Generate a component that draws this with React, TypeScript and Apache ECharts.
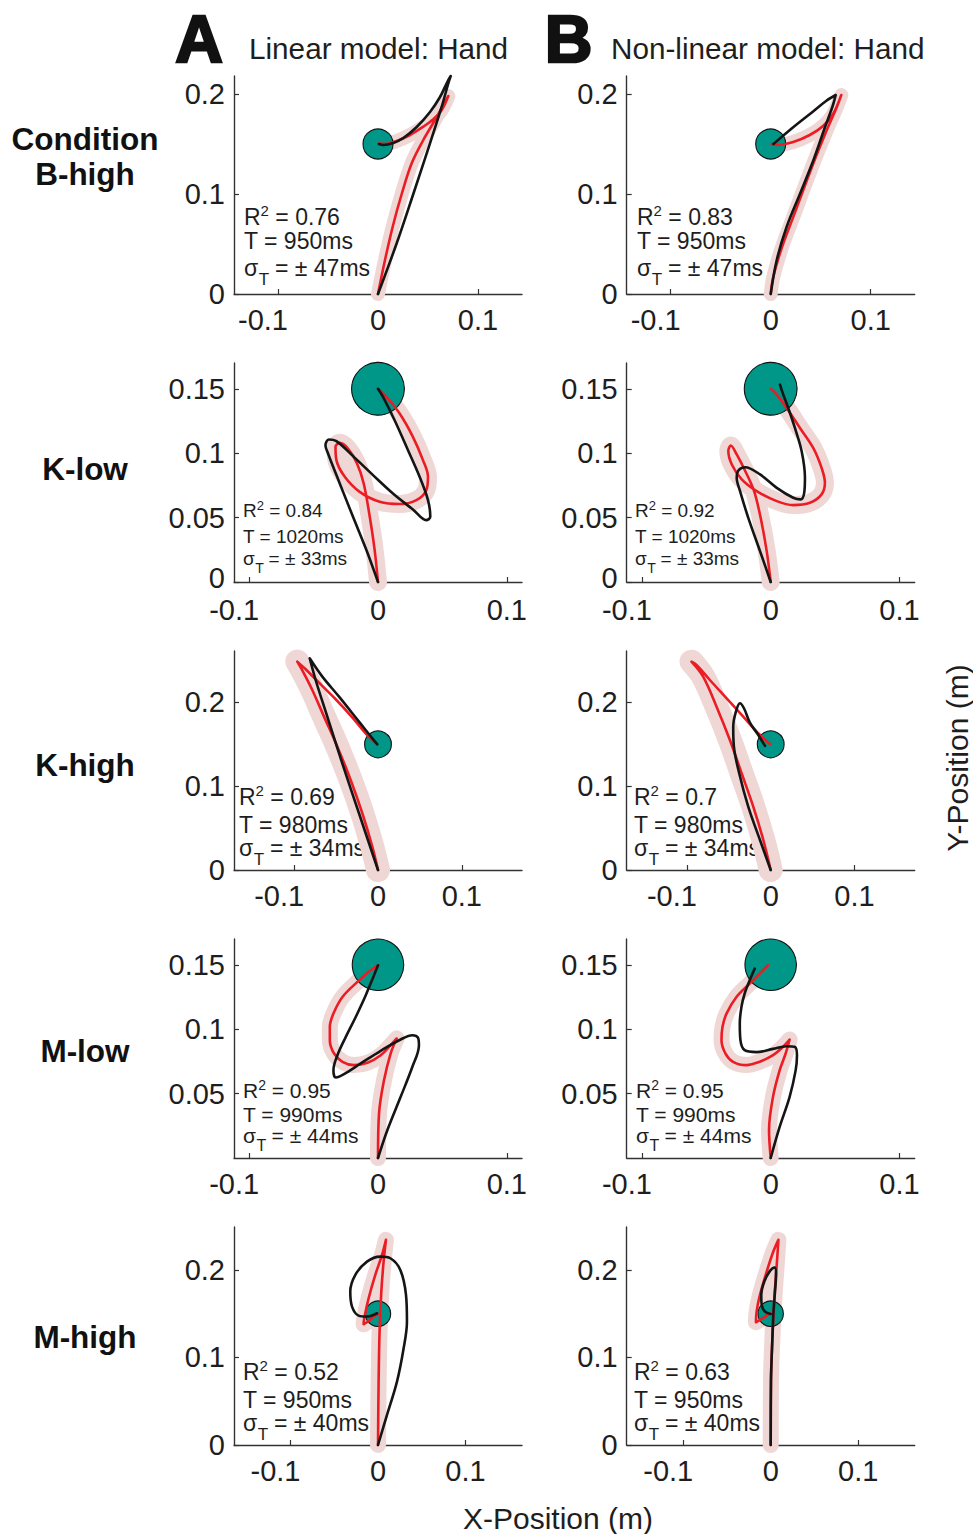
import React, { useEffect, useRef } from 'react';
import * as echarts from 'echarts';

// ---------- labels / texts ----------
const rowNames = [['Condition', 'B-high'], ['K-low'], ['K-high'], ['M-low'], ['M-high']];
const columnTitles = ['Linear model: Hand', 'Non-linear model: Hand'];
const columnLetters = ['A', 'B'];
const r2Linear = ['0.76', '0.84', '0.69', '0.95', '0.52'];
const r2Nonlinear = ['0.83', '0.92', '0.7', '0.95', '0.63'];
const durationsMs = ['950', '1020', '980', '990', '950'];
const sigmaMs = ['47', '33', '34', '44', '40'];

// ---------- tick labels ----------
const xTickValues = [-0.1, 0, 0.1];
const yTickValues = [
  [0, 0.1, 0.2],
  [0, 0.05, 0.1, 0.15],
  [0, 0.1, 0.2],
  [0.05, 0.1, 0.15],
  [0, 0.1, 0.2],
];

// ---------- targets (x, y, radius) ----------
const targetX = [0, 0, 0, 0, 0];
const targetY = [0.15, 0.15, 0.15, 0.15, 0.15];
const targetR = [0.015, 0.0205, 0.016, 0.02, 0.0145];

// ---------- trajectories [x, y] in metres ----------
// Row 1: B-high
const redBHighL = [[0, 0], [0.007, 0.034], [0.0147, 0.0673], [0.0237, 0.1], [0.0337, 0.1307], [0.0453, 0.154], [0.057, 0.174], [0.0653, 0.189], [0.0703, 0.198], [0.0637, 0.184], [0.0553, 0.1747], [0.0453, 0.1673], [0.032, 0.159], [0.0187, 0.153], [0.007, 0.15], [0.001, 0.1505]];
const blackBHighL = [[0, 0], [0.0187, 0.0507], [0.0353, 0.1], [0.052, 0.1507], [0.0637, 0.1873], [0.0703, 0.2107], [0.0727, 0.218], [0.0693, 0.212], [0.062, 0.197], [0.052, 0.182], [0.0387, 0.167], [0.0253, 0.156], [0.0153, 0.151], [0.0053, 0.149], [0.001, 0.15]];
const redBHighR = [[0, 0], [0.0026, 0.0172], [0.011, 0.046], [0.0225, 0.0769], [0.0424, 0.13], [0.0557, 0.163], [0.0657, 0.186], [0.0706, 0.199], [0.0624, 0.18], [0.0524, 0.168], [0.0391, 0.159], [0.0225, 0.152], [0.0059, 0.149], [0.001, 0.15]];
const blackBHighR = [[0, 0], [0.006, 0.0338], [0.0159, 0.067], [0.0292, 0.1], [0.0424, 0.133], [0.054, 0.166], [0.0623, 0.189], [0.065, 0.199], [0.0557, 0.1933], [0.0424, 0.1826], [0.0225, 0.1668], [0.0027, 0.15]];

// Row 2: K-low
const redKLowL = [[0, 0], [-0.0026, 0.0248], [-0.0064, 0.0506], [-0.0111, 0.0765], [-0.0163, 0.092], [-0.0233, 0.1036], [-0.0297, 0.108], [-0.033, 0.1049], [-0.0323, 0.0946], [-0.0258, 0.0817], [-0.0142, 0.07], [0.0013, 0.0623], [0.0168, 0.0605], [0.0298, 0.0636], [0.0375, 0.0713], [0.0388, 0.0817], [0.0349, 0.0946], [0.0271, 0.1127], [0.0168, 0.1308], [0.0065, 0.1437], [0, 0.15]];
const blackKLowL = [[0, 0], [-0.009, 0.0248], [-0.0194, 0.0506], [-0.0297, 0.0765], [-0.0388, 0.0998], [-0.0408, 0.1062], [-0.0382, 0.1106], [-0.0323, 0.1093], [-0.0194, 0.0977], [-0.0039, 0.083], [0.0116, 0.0687], [0.0271, 0.0563], [0.0375, 0.048], [0.0406, 0.0506], [0.0388, 0.0636], [0.0323, 0.0817], [0.0233, 0.1023], [0.0129, 0.1256], [0.0039, 0.1437], [0, 0.15]];
const redKLowR = [[0, 0], [-0.0031, 0.024], [-0.0078, 0.0498], [-0.0129, 0.0705], [-0.0197, 0.086], [-0.0264, 0.099], [-0.031, 0.106], [-0.0329, 0.1016], [-0.0302, 0.0912], [-0.0225, 0.0796], [-0.0109, 0.0705], [0.0047, 0.0628], [0.0175, 0.0597], [0.0305, 0.0615], [0.0395, 0.068], [0.0421, 0.077], [0.0395, 0.0886], [0.033, 0.1041], [0.0227, 0.1196], [0.0124, 0.1351], [0.0047, 0.1455], [0, 0.15]];
const blackKLowR = [[0, 0], [-0.0083, 0.024], [-0.0174, 0.0498], [-0.0238, 0.0705], [-0.0264, 0.0809], [-0.0251, 0.0866], [-0.0199, 0.0891], [-0.0083, 0.0835], [0.0047, 0.0731], [0.0175, 0.0654], [0.0233, 0.0641], [0.026, 0.0692], [0.0266, 0.0809], [0.024, 0.1016], [0.0188, 0.1196], [0.0136, 0.1351], [0.0093, 0.1467], [0.0072, 0.1532]];

// Row 3: K-high
const redKHighL = [[0, 0], [-0.0068, 0.0278], [-0.0187, 0.0677], [-0.0326, 0.1074], [-0.0485, 0.1472], [-0.0644, 0.183], [-0.0784, 0.2148], [-0.0895, 0.2367], [-0.0963, 0.2486], [-0.0863, 0.2395], [-0.0704, 0.2235], [-0.0505, 0.2037], [-0.0307, 0.1822], [-0.0147, 0.1631], [-0.0027, 0.1512]];
const blackKHighL = [[0, 0], [-0.0227, 0.0677], [-0.0426, 0.1273], [-0.0624, 0.1889], [-0.0744, 0.2267], [-0.0815, 0.2526], [-0.0664, 0.2307], [-0.0465, 0.2068], [-0.0227, 0.177], [-0.0068, 0.1571], [-0.0008, 0.15]];
const redKHighR = [[0, 0], [-0.0088, 0.0358], [-0.0208, 0.0756], [-0.0347, 0.1154], [-0.0487, 0.1551], [-0.0646, 0.1949], [-0.0806, 0.2307], [-0.0945, 0.2486], [-0.0885, 0.2446], [-0.0726, 0.2267], [-0.0526, 0.2049], [-0.0328, 0.183], [-0.0128, 0.1611], [-0.0008, 0.1504]];
const blackKHighR = [[0, 0], [-0.0128, 0.0358], [-0.0268, 0.0756], [-0.0376, 0.1154], [-0.0439, 0.1472], [-0.0447, 0.171], [-0.0415, 0.1889], [-0.0367, 0.1989], [-0.0319, 0.193], [-0.0248, 0.1758], [-0.0148, 0.1611], [-0.0068, 0.148]];

// Row 4: M-low
const redMLowL = [[0, 0], [0.0008, 0.0346], [0.0047, 0.0605], [0.0098, 0.0811], [0.0145, 0.0928], [0.0098, 0.0876], [0.0021, 0.0798], [-0.0082, 0.0739], [-0.0186, 0.0721], [-0.0276, 0.0747], [-0.0341, 0.0811], [-0.0374, 0.0915], [-0.0374, 0.1018], [-0.0346, 0.1121], [-0.0276, 0.125], [-0.016, 0.1367], [-0.0057, 0.1457], [0, 0.1496]];
const blackMLowL = [[0, 0], [0.0073, 0.0217], [0.0176, 0.0475], [0.0267, 0.0708], [0.0318, 0.0876], [0.031, 0.0935], [0.0267, 0.0953], [0.0176, 0.092], [0.0021, 0.0832], [-0.0134, 0.0734], [-0.0264, 0.0651], [-0.0328, 0.0625], [-0.0346, 0.0682], [-0.0315, 0.0798], [-0.025, 0.094], [-0.0173, 0.1095], [-0.0095, 0.1264], [-0.0031, 0.1419], [0, 0.1496]];
const redMLowR = [[0, 0], [-0.0013, 0.0217], [0.0018, 0.0475], [0.007, 0.0682], [0.0116, 0.0811], [0.0147, 0.092], [0.0095, 0.0863], [0.0018, 0.0798], [-0.0085, 0.0747], [-0.0188, 0.0721], [-0.0292, 0.0747], [-0.0351, 0.0811], [-0.0382, 0.0915], [-0.0374, 0.1018], [-0.0343, 0.1121], [-0.0266, 0.125], [-0.0163, 0.1354], [-0.0072, 0.1445], [-0.0021, 0.1496]];
const blackMLowR = [[0, 0], [0.007, 0.0243], [0.0147, 0.0475], [0.0194, 0.0682], [0.0204, 0.0798], [0.0186, 0.0863], [0.0122, 0.0868], [0.0018, 0.0847], [-0.0111, 0.0822], [-0.0202, 0.0837], [-0.0235, 0.0915], [-0.024, 0.1044], [-0.0227, 0.1173], [-0.0202, 0.1277], [-0.0163, 0.138], [-0.0124, 0.147]];

// Row 5: M-high
const redMHighL = [[0, 0], [0.0007, 0.0724], [0.0018, 0.1295], [0.0038, 0.1752], [0.0064, 0.2095], [0.0091, 0.2343], [0.0046, 0.2171], [-0.0031, 0.1943], [-0.0107, 0.1676], [-0.0157, 0.1448], [-0.0165, 0.1379], [-0.0107, 0.1417], [-0.005, 0.1467], [0, 0.1497]];
const blackMHighL = [[0, 0], [0.0103, 0.0343], [0.0217, 0.0724], [0.0293, 0.1105], [0.0331, 0.1409], [0.032, 0.1714], [0.0255, 0.2], [0.0141, 0.2133], [0.0026, 0.2152], [-0.0126, 0.2095], [-0.0259, 0.1943], [-0.0317, 0.1752], [-0.0297, 0.1581], [-0.0222, 0.1478], [-0.0126, 0.1467], [-0.0011, 0.1505]];
const redMHighR = [[0, 0], [0.0003, 0.0724], [0.0023, 0.1295], [0.0042, 0.1676], [0.0069, 0.2057], [0.0088, 0.2343], [0.003, 0.221], [-0.0046, 0.198], [-0.0123, 0.1714], [-0.0161, 0.1524], [-0.0169, 0.1402], [-0.0103, 0.144], [-0.0046, 0.1478], [0, 0.15]];
const blackMHighR = [[0, 0], [0.0003, 0.0724], [0.0015, 0.1105], [0.003, 0.1486], [0.0049, 0.1752], [0.0061, 0.1943], [0.0046, 0.2027], [-0.0008, 0.1989], [-0.0073, 0.1867], [-0.0108, 0.1714], [-0.0103, 0.16], [-0.0065, 0.1524], [0, 0.1497]];

const redPaths = [[redBHighL, redBHighR], [redKLowL, redKLowR], [redKHighL, redKHighR], [redMLowL, redMLowR], [redMHighL, redMHighR]];
const blackPaths = [[blackBHighL, blackBHighR], [blackKLowL, blackKLowR], [blackKHighL, blackKHighR], [blackMLowL, blackMLowR], [blackMHighL, blackMHighR]];

// ---------- layout (pixels) & styles ----------
const FONT = "'Liberation Sans', Arial, Helvetica, sans-serif";
const COL_LEFT = [234, 626.7];
const GRID_W = 288;
const ROW_LAYOUT = [
  { top: 76, height: 218, xr: 0.144, ymax: 0.218 },
  { top: 363, height: 219, xr: 0.1118, ymax: 0.17 },
  { top: 651, height: 219, xr: 0.1718, ymax: 0.2613 },
  { top: 939, height: 219, xr: 0.1118, ymax: 0.17 },
  { top: 1227, height: 218, xr: 0.1646, ymax: 0.249 },
];
const X_LABEL_MARGIN = [14, 16, 14, 14, 14];
const ZERO_LIFT = [0, 8, 0, 0, 0];
const BAND_W = [14, 18, 24, 16, 16];
const BAND_OUT_ONLY = [false, false, true, false, false];
const ANN_X = [[244, 637], [243, 635], [239, 634], [243, 636], [243, 634]];
const ANN_Y = [[217, 241, 268], [510, 536.5, 558], [796.5, 825, 848], [1090.5, 1114, 1135], [1371.5, 1400, 1423]];
const ANN_FS = [23, 19, 23, 21, 23];
const ROW_LABEL_Y = [[139, 174], [469], [765], [1051], [1337]];
const ROW_LABEL_FS = 31.5;
const TICK_FS = 29;

const RED = '#ec1c24';
const BLACK = '#151515';
const BAND = '#efd7d5';
const TEAL = '#009688';
const AXIS = '#333333';
const TEXT = '#1e1e1e';

let measureCtx: CanvasRenderingContext2D | null = null;
function textWidth(text: string, fs: number) {
  if (!measureCtx) measureCtx = document.createElement('canvas').getContext('2d');
  if (!measureCtx) return text.length * fs * 0.55;
  measureCtx.font = `${fs}px ${FONT}`;
  return measureCtx.measureText(text).width;
}

function fmt(v: number) {
  return String(Math.round(v * 1000) / 1000);
}

function plainText(x: number, y: number, text: string, fs: number, extra: any = {}) {
  return {
    type: 'text', x, y, silent: true,
    style: { text, fill: TEXT, fontFamily: FONT, fontSize: fs, align: 'left', verticalAlign: 'middle', ...extra },
  };
}

function annotation(x: number, ys: number[], fs: number, r2: string, t: string, sig: string) {
  const L = Math.round(fs * 1.2);
  const up = Math.round(fs * 0.2);
  const base = { fontSize: fs, fontFamily: FONT, lineHeight: L };
  const subFs = Math.round(fs * 0.74);
  const wSigma = textWidth('σ', fs);
  const wSub = textWidth('T', subFs);
  return [
    {
      type: 'text', x, y: ys[0], silent: true,
      style: {
        text: `{a|R}{sup|2}{a| = ${r2}}`, fill: TEXT, fontFamily: FONT, fontSize: fs,
        align: 'left', verticalAlign: 'middle',
        rich: { a: base, sup: { fontSize: Math.round(fs * 0.66), fontFamily: FONT, lineHeight: L - 2 * up, verticalAlign: 'top' } },
      },
    },
    plainText(x, ys[1], `T = ${t}ms`, fs),
    plainText(x, ys[2], 'σ', fs),
    plainText(x + wSigma + 0.5, ys[2] + fs * 0.5, 'T', subFs),
    plainText(x + wSigma + wSub, ys[2], ` = ± ${sig}ms`, fs),
  ];
}

function buildOption() {
  const grid: any[] = [];
  const xAxis: any[] = [];
  const yAxis: any[] = [];
  const series: any[] = [];
  const graphic: any[] = [];

  for (let r = 0; r < 5; r++) {
    const lay = ROW_LAYOUT[r];
    const lift = ZERO_LIFT[r];
    for (let c = 0; c < 2; c++) {
      const idx = r * 2 + c;
      grid.push({ left: COL_LEFT[c], top: lay.top, width: GRID_W, height: lay.height, outerBoundsMode: 'none', containLabel: false });
      xAxis.push({
        type: 'value', gridIndex: idx, min: -lay.xr, max: lay.xr,
        axisLine: { show: true, onZero: false, lineStyle: { color: AXIS, width: 1.4 } },
        axisTick: { show: true, inside: true, length: 5, customValues: xTickValues, lineStyle: { color: AXIS, width: 1.2 } },
        axisLabel: {
          show: true, customValues: xTickValues, margin: X_LABEL_MARGIN[r], lineHeight: 24, color: TEXT, fontSize: TICK_FS, fontFamily: FONT,
          formatter: (v: number) => (v < 0 ? `{neg|${fmt(v)}}` : fmt(v)),
          rich: { neg: { fontSize: TICK_FS, fontFamily: FONT, color: TEXT, lineHeight: 24, padding: [0, 30, 0, 0] } },
        },
        splitLine: { show: false },
      });
      yAxis.push({
        type: 'value', gridIndex: idx, min: 0, max: lay.ymax,
        axisLine: { show: true, onZero: false, lineStyle: { color: AXIS, width: 1.4 } },
        axisTick: { show: true, inside: true, length: 5, customValues: yTickValues[r], lineStyle: { color: AXIS, width: 1.2 } },
        axisLabel: {
          show: true, customValues: yTickValues[r], margin: 9, lineHeight: 22, color: TEXT, fontSize: TICK_FS, fontFamily: FONT,
          formatter: (v: number) => (v === 0 && lift ? `{z|${fmt(v)}}` : fmt(v)),
          rich: { z: { fontSize: TICK_FS, fontFamily: FONT, color: TEXT, lineHeight: 22, padding: [0, 0, lift, 0] } },
        },
        splitLine: { show: false },
      });

      const red = redPaths[r][c];
      const black = blackPaths[r][c];
      let band = red;
      if (BAND_OUT_ONLY[r]) {
        let tip = 0;
        red.forEach((p, i) => { if (p[1] > red[tip][1]) tip = i; });
        band = red.slice(0, tip + 1);
      }
      const common = { xAxisIndex: idx, yAxisIndex: idx, silent: true, clip: false, animation: false };
      series.push({
        ...common, type: 'line', name: `band${idx}`, data: band, symbol: 'none', showSymbol: false, smooth: 0.35, z: 1,
        lineStyle: { color: BAND, width: BAND_W[r], cap: 'round', join: 'round' }, emphasis: { disabled: true },
      });
      series.push({
        ...common, type: 'custom', name: `target${idx}`, z: 2,
        data: [[targetX[r], targetY[r], targetR[r]]],
        renderItem: (_p: any, api: any) => {
          const ctr = api.coord([api.value(0), api.value(1)]);
          const sz = api.size([api.value(2), api.value(2)]);
          return { type: 'circle', shape: { cx: ctr[0], cy: ctr[1], r: sz[0] }, style: { fill: TEAL, stroke: '#111', lineWidth: 1.1 } };
        },
      });
      series.push({
        ...common, type: 'line', name: `data${idx}`, data: red, symbol: 'none', showSymbol: false, smooth: 0.35, z: 3,
        lineStyle: { color: RED, width: 2.6, cap: 'round', join: 'round' }, emphasis: { disabled: true },
      });
      series.push({
        ...common, type: 'line', name: `model${idx}`, data: black, symbol: 'none', showSymbol: false, smooth: 0.35, z: 4,
        lineStyle: { color: BLACK, width: 2.6, cap: 'round', join: 'round' }, emphasis: { disabled: true },
      });

      const r2 = c === 0 ? r2Linear[r] : r2Nonlinear[r];
      graphic.push(...annotation(ANN_X[r][c], ANN_Y[r], ANN_FS[r], r2, durationsMs[r], sigmaMs[r]));
    }
    rowNames[r].forEach((name, k) => {
      graphic.push({
        type: 'text', x: 85, y: ROW_LABEL_Y[r][k], silent: true,
        style: { text: name, fill: '#111', fontFamily: FONT, fontSize: ROW_LABEL_FS, lineHeight: 30, fontWeight: 'bold', align: 'center', verticalAlign: 'middle' },
      });
    });
  }

  // column headers
  const letterX = [199, 568.5];
  const titleX = [249, 611];
  for (let c = 0; c < 2; c++) {
    graphic.push({
      type: 'text', x: letterX[c], y: 39, silent: true,
      style: { text: columnLetters[c], fill: '#111', stroke: '#111', lineWidth: 2.5, fontFamily: FONT, fontSize: 66, fontWeight: 'bold', align: 'center', verticalAlign: 'middle' },
    });
    graphic.push({
      type: 'text', x: titleX[c], y: 48, silent: true,
      style: { text: columnTitles[c], fill: TEXT, fontFamily: FONT, fontSize: 29.7, align: 'left', verticalAlign: 'middle' },
    });
  }
  // axis titles
  graphic.push({
    type: 'text', x: 558, y: 1518, silent: true,
    style: { text: 'X-Position (m)', fill: TEXT, fontFamily: FONT, fontSize: 30, align: 'center', verticalAlign: 'middle' },
  });
  graphic.push({
    type: 'text', x: 957, y: 758, rotation: Math.PI / 2, silent: true,
    style: { text: 'Y-Position (m)', fill: TEXT, fontFamily: FONT, fontSize: 30, align: 'center', verticalAlign: 'middle' },
  });

  return { animation: false, backgroundColor: '#ffffff', grid, xAxis, yAxis, series, graphic };
}

export default function App() {
  const ref = useRef<HTMLDivElement>(null);
  useEffect(() => {
    if (!ref.current) return;
    const chart = echarts.init(ref.current, null, { renderer: 'svg' });
    chart.setOption(buildOption() as any);
    return () => chart.dispose();
  }, []);
  return <div ref={ref} style={{ position: 'absolute', left: 0, top: 0, width: 973, height: 1534, background: '#fff' }} />;
}
